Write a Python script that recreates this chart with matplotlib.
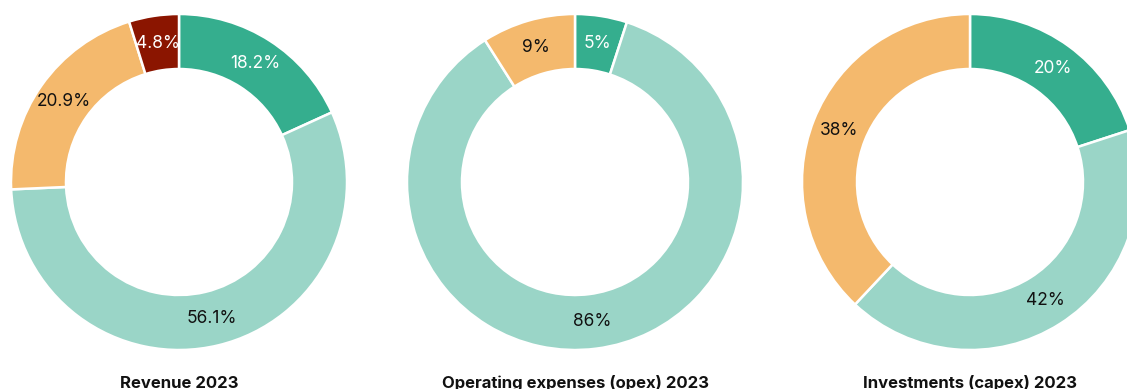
import matplotlib
matplotlib.use("Agg")
import matplotlib.pyplot as plt

titles = ["Revenue 2023", "Operating expenses (opex) 2023", "Investments (capex) 2023"]
revenue = [18.2, 56.1, 20.9, 4.8]
revenue_labels = ["18.2%", "56.1%", "20.9%", "4.8%"]
opex = [5, 86, 9]
opex_labels = ["5%", "86%", "9%"]
capex = [20, 42, 38]
capex_labels = ["20%", "42%", "38%"]

C_DARK = "#35ae8e"
C_LIGHT = "#9ad5c7"
C_ORANGE = "#f4b96d"
C_RED = "#8b1500"

series = [
    (revenue, revenue_labels, [C_DARK, C_LIGHT, C_ORANGE, C_RED]),
    (opex, opex_labels, [C_DARK, C_LIGHT, C_ORANGE]),
    (capex, capex_labels, [C_DARK, C_LIGHT, C_ORANGE]),
]
centers_x = [179, 575, 970]

W, H = 1127, 389
fig = plt.figure(figsize=(W / 100, H / 100), dpi=100)
ax = fig.add_axes([0, 0, 1, 1])
ax.set_xlim(0, W)
ax.set_ylim(0, H)
ax.set_aspect("equal")
ax.axis("off")

plt.rcParams["font.family"] = ["Inter", "DejaVu Sans"]

R = 168
ring = 55
cy = H - 182
for (vals, labs, cols), cx, title in zip(series, centers_x, titles):
    wedges, texts = ax.pie(vals, colors=cols, startangle=90, counterclock=False,
                           center=(cx, cy), radius=R, labels=labs,
                           labeldistance=(R - ring / 2) / R,
                           wedgeprops=dict(width=ring, edgecolor="white", linewidth=1.8),
                           textprops=dict(fontsize=12.5, ha="center", va="center"))
    for t, c in zip(texts, cols):
        t.set_color("white" if c in (C_DARK, C_RED) else "#111111")
        t.set_ha("center")
        t.set_va("center")
    ax.text(cx, H - 388, title, ha="center", va="baseline", fontsize=12,
            fontweight="bold", color="#111111")

ax.set_xlim(0, W)
ax.set_ylim(0, H)
fig.savefig("out.png", dpi=100)
